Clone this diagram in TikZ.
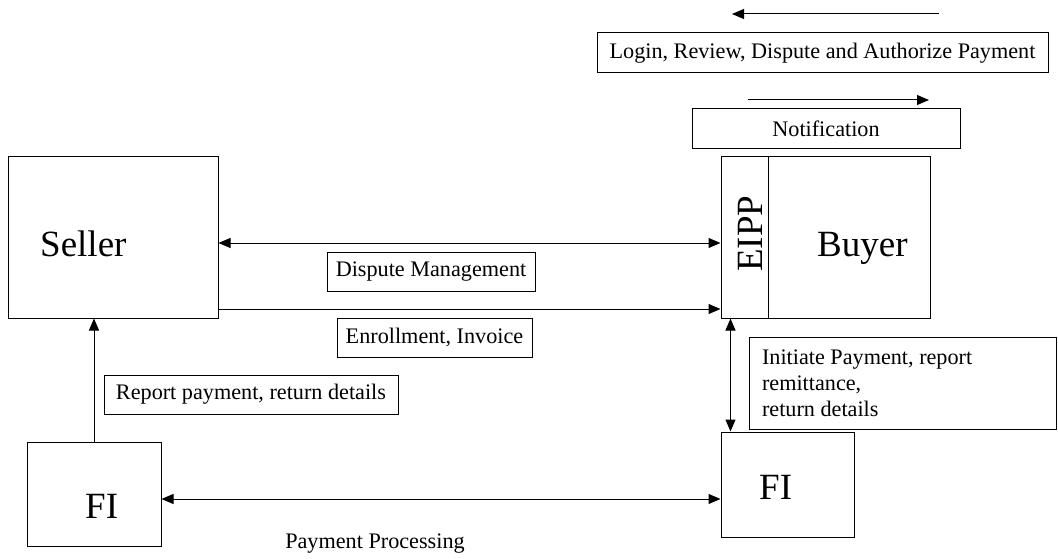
\documentclass[tikz,border=0pt]{standalone}
\usepackage{fontspec}
\setmainfont{Liberation Serif}
\usetikzlibrary{arrows.meta}
\tikzset{
  box/.style={draw, line width=1pt, inner sep=0pt},
  lbl/.style={draw, line width=1pt, inner sep=0pt, font=\fontsize{22.2}{26}\selectfont},
  plain/.style={inner sep=0pt, font=\fontsize{22.2}{26}\selectfont},
  big/.style={inner sep=0pt, font=\fontsize{37}{44}\selectfont},
  arr/.style={line width=1pt, -{Triangle[length=12pt,width=10pt]}},
  dbl/.style={line width=1pt, {Triangle[length=12pt,width=10pt]}-{Triangle[length=12pt,width=10pt]}},
}
\begin{document}
\begin{tikzpicture}[x=1pt,y=-1pt]
\useasboundingbox[fill=white] (0,0) rectangle (1058,559);

% main boxes
\node[box, minimum width=210pt, minimum height=161pt] (seller) at (113,237.5) {};
\node[box, minimum width=209pt, minimum height=161pt] (buyer) at (825.5,237.5) {};
\node[box, minimum width=47pt, minimum height=161pt] (eipp) at (744.5,237.5) {};
\node[box, minimum width=134pt, minimum height=104pt] (fil) at (94,494) {};
\node[box, minimum width=133pt, minimum height=105pt] (fir) at (787.5,484.5) {};

% big texts
\node[big, anchor=base west] (sellert) at (40,256) {Seller};
\node[big, anchor=base west] (buyert) at (817,256) {Buyer};
\node[big, anchor=base west, rotate=90] (eippt) at (762,272) {EIPP};
\node[big, anchor=base west] (filt) at (85,518) {FI};
\node[big, anchor=base west] (firt) at (759,499) {FI};

% label boxes
\node[lbl, minimum width=451pt, minimum height=40pt] (login) at (822.5,53) {Login, Review, Dispute and Authorize Payment};
\node[lbl, minimum width=268pt, minimum height=40pt] (notif) at (826,129) {Notification};
\node[lbl, minimum width=208pt, minimum height=39pt] (dm) at (431,271.5) {Dispute Management};
\node[lbl, minimum width=195pt, minimum height=39pt] (enr) at (434.5,337.5) {Enrollment, Invoice};
\node[lbl, minimum width=294pt, minimum height=39pt] (rep) at (251,394.5) {Report payment, return details};
\node[lbl, minimum height=92pt, inner xsep=13pt, text width=281pt, align=flush left] (init) at (902.5,383) {Initiate Payment, report\\remittance,\\return details};
\node[plain, anchor=base] (pp) at (375,548) {Payment Processing};

% free arrows at the top
\coordinate (t1) at (939,14);
\coordinate (t2) at (732,14);
\coordinate (n1) at (748,100);
\coordinate (n2) at (929,100);
\draw[arr] (t1) -- (t2);
\draw[arr] (n1) -- (n2);

% connectors
\draw[dbl] ([yshift=-5.5pt]seller.east) -- ([yshift=-5.5pt]buyer.west);
\draw[arr] ([yshift=-71.5pt]seller.east) -- ([yshift=-71.5pt]buyer.west);
\draw[arr] (fil.north) -- (fil.north |- seller.south);
\draw[dbl] ([yshift=-5pt]fil.east) -- ([yshift=-5pt]fil.east -| fir.west);
\draw[dbl] ([xshift=10pt]buyer.south west) -- ([xshift=10pt]buyer.south west |- fir.north);
\end{tikzpicture}
\end{document}
